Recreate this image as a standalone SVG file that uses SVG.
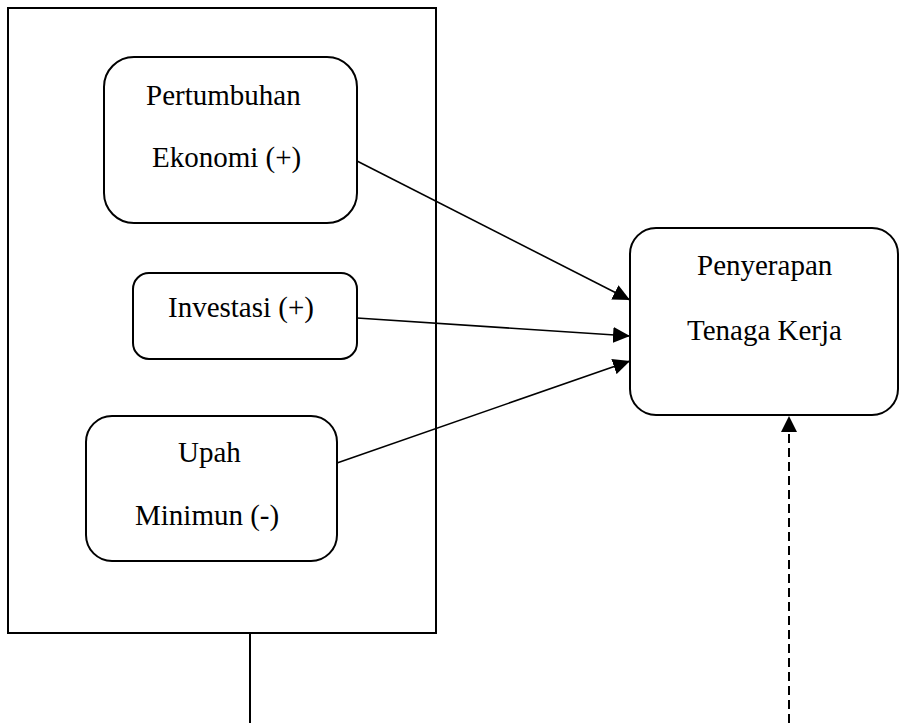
<svg xmlns="http://www.w3.org/2000/svg" width="900" height="723" viewBox="0 0 900 723">
<style>
.box{fill:#fff;stroke:#000;stroke-width:2}
.t{font-family:"Liberation Serif","Times New Roman",serif;font-size:29px;fill:#000}
.c{stroke:#000;stroke-width:1.6;fill:none}
</style>
<defs>
<marker id="ah" markerUnits="userSpaceOnUse" markerWidth="18" markerHeight="16" refX="17" refY="8" orient="auto">
<path d="M0,0 L17,8 L0,16 Z" fill="#000"/>
</marker>
</defs>
<rect width="900" height="723" fill="#fff"/>
<g id="frame">
<rect x="8" y="8" width="428" height="625" fill="none" stroke="#000" stroke-width="2"/>
</g>
<g id="n1">
<rect class="box" x="104" y="57" width="253" height="166" rx="30"/>
<text class="t" x="146" y="105">Pertumbuhan</text>
<text class="t" x="152" y="167">Ekonomi (+)</text>
</g>
<g id="n2">
<rect class="box" x="133" y="273" width="224" height="86" rx="16"/>
<text class="t" x="168" y="317">Investasi (+)</text>
</g>
<g id="n3">
<rect class="box" x="86" y="416" width="251" height="145" rx="26"/>
<text class="t" x="178" y="462">Upah</text>
<text class="t" x="135" y="525">Minimun (-)</text>
</g>
<g id="n4">
<rect class="box" x="630" y="228" width="268" height="187" rx="26"/>
<text class="t" x="697" y="275">Penyerapan</text>
<text class="t" x="687" y="340">Tenaga Kerja</text>
</g>
<g id="connectors">
<line class="c" x1="357" y1="161" x2="630" y2="300" marker-end="url(#ah)"/>
<line class="c" x1="357" y1="318" x2="630" y2="336" marker-end="url(#ah)"/>
<line class="c" x1="337" y1="463" x2="630" y2="361" marker-end="url(#ah)"/>
<line x1="250" y1="633" x2="250" y2="723" stroke="#000" stroke-width="2"/>
<line x1="789" y1="723" x2="789" y2="432" stroke="#000" stroke-width="2" stroke-dasharray="9,5"/>
<path d="M781,432 L789,416 L797,432 Z" fill="#000"/>
</g>
</svg>
